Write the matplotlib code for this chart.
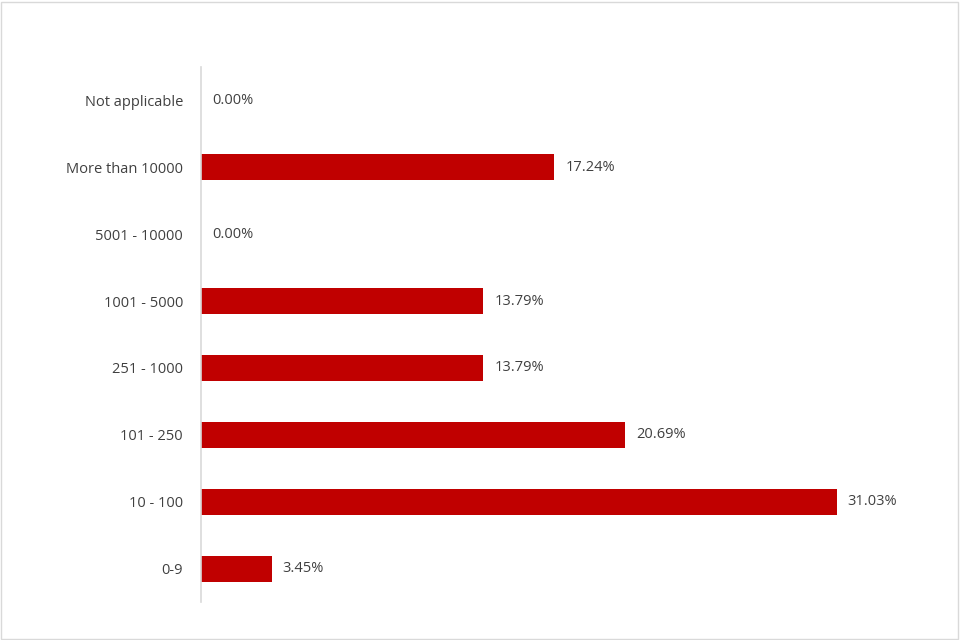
import matplotlib
matplotlib.use("Agg")
import matplotlib.pyplot as plt
from matplotlib.patches import Rectangle

plt.rcParams['font.family'] = ['Open Sans', 'DejaVu Sans']

categories = ["0-9", "10 - 100", "101 - 250", "251 - 1000", "1001 - 5000",
              "5001 - 10000", "More than 10000", "Not applicable"]
values = [3.45, 31.03, 20.69, 13.79, 13.79, 0.00, 17.24, 0.00]
value_labels = ["3.45%", "31.03%", "20.69%", "13.79%", "13.79%", "0.00%", "17.24%", "0.00%"]

fig = plt.figure(figsize=(9.6, 6.4), dpi=100)
ax = fig.add_axes([201 / 960, 1 - 602 / 640, (918 - 201) / 960, (602 - 67) / 640])

ypos = range(len(categories))
ax.barh(ypos, values, height=0.39, color="#C00000")
for y, v, lab in zip(ypos, values, value_labels):
    ax.annotate(lab, (v, y), xytext=(8, 0), textcoords="offset points",
                va="center", ha="left", fontsize=10.5, color="#404040")

ax.set_xlim(0, 35)
ax.set_ylim(-0.5, len(categories) - 0.5)
ax.set_yticks(list(ypos))
ax.set_yticklabels(categories, fontsize=10.5, color="#404040")
ax.tick_params(axis="y", length=0, pad=13)
ax.set_xticks([])
for s in ["top", "right", "bottom"]:
    ax.spines[s].set_visible(False)
ax.spines["left"].set_color("#d9d9d9")
ax.spines["left"].set_linewidth(1.2)

fig.patches.append(Rectangle((1 / 960, 1 / 640), 957 / 960, 637 / 640,
                             transform=fig.transFigure, fill=False,
                             edgecolor="#d9d9d9", linewidth=1.0))

fig.savefig("out.png", dpi=100)
